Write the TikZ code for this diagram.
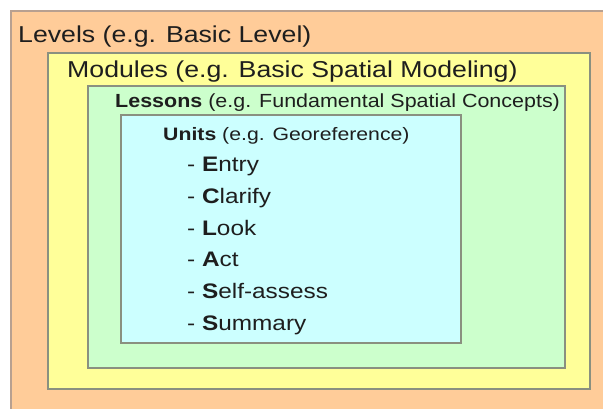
\documentclass[tikz,border=0pt]{standalone}
\usepackage{fontspec}
\setmainfont{Liberation Sans}
\definecolor{levelcol}{HTML}{FFCC99}
\definecolor{modulecol}{HTML}{FFFF99}
\definecolor{lessoncol}{HTML}{CCFFCC}
\definecolor{unitcol}{HTML}{CCFFFF}
\definecolor{levelline}{HTML}{B8A090}
\definecolor{boxline}{HTML}{8A9080}
\definecolor{textcol}{HTML}{1E1E1E}

\begin{document}
\begin{tikzpicture}[x=1pt,y=-1pt,
  box/.style={draw=boxline,line width=1.2pt},
  lbl/.style={anchor=base west,inner sep=0pt,xscale=1.16,text=textcol}]
\useasboundingbox (0,0) rectangle (603,409);
%levels
\fill[levelcol] (11,11) rectangle (610,415);
\draw[levelline,line width=1.2pt] (11,415) -- (11,11) -- (610,11);
%modules
\draw[box,fill=modulecol] (48,53) rectangle (590,389);
%lessons
\draw[box,fill=lessoncol] (88,86) rectangle (565,368);
%units
\draw[box,fill=unitcol] (121,115) rectangle (461,343);
% labels
\node[lbl,font=\fontsize{23}{23}\selectfont] (levels) at (18,42.7) {Levels (e.g. Basic Level)};
\node[lbl,font=\fontsize{23}{23}\selectfont] (modules) at (67,78) {Modules (e.g. Basic Spatial Modeling)};
\node[lbl,xscale=1.13/1.16,font=\fontsize{19}{19}\selectfont] (lessons) at (115,108) {\textbf{Lessons} (e.g. Fundamental Spatial Concepts)};
\node[lbl,xscale=1.18/1.16,font=\fontsize{18}{18}\selectfont] (units) at (163,140.5) {\textbf{Units} (e.g. Georeference)};
\foreach \b/\r [count=\i from 0] in {E/ntry,C/larify,L/ook,A/ct,S/elf-assess,S/ummary}{
\node[lbl,font=\fontsize{21}{21}\selectfont] (item\i) at (187,171.7+31.7*\i) {- \textbf{\b}\r};
}
\end{tikzpicture}
\end{document}
